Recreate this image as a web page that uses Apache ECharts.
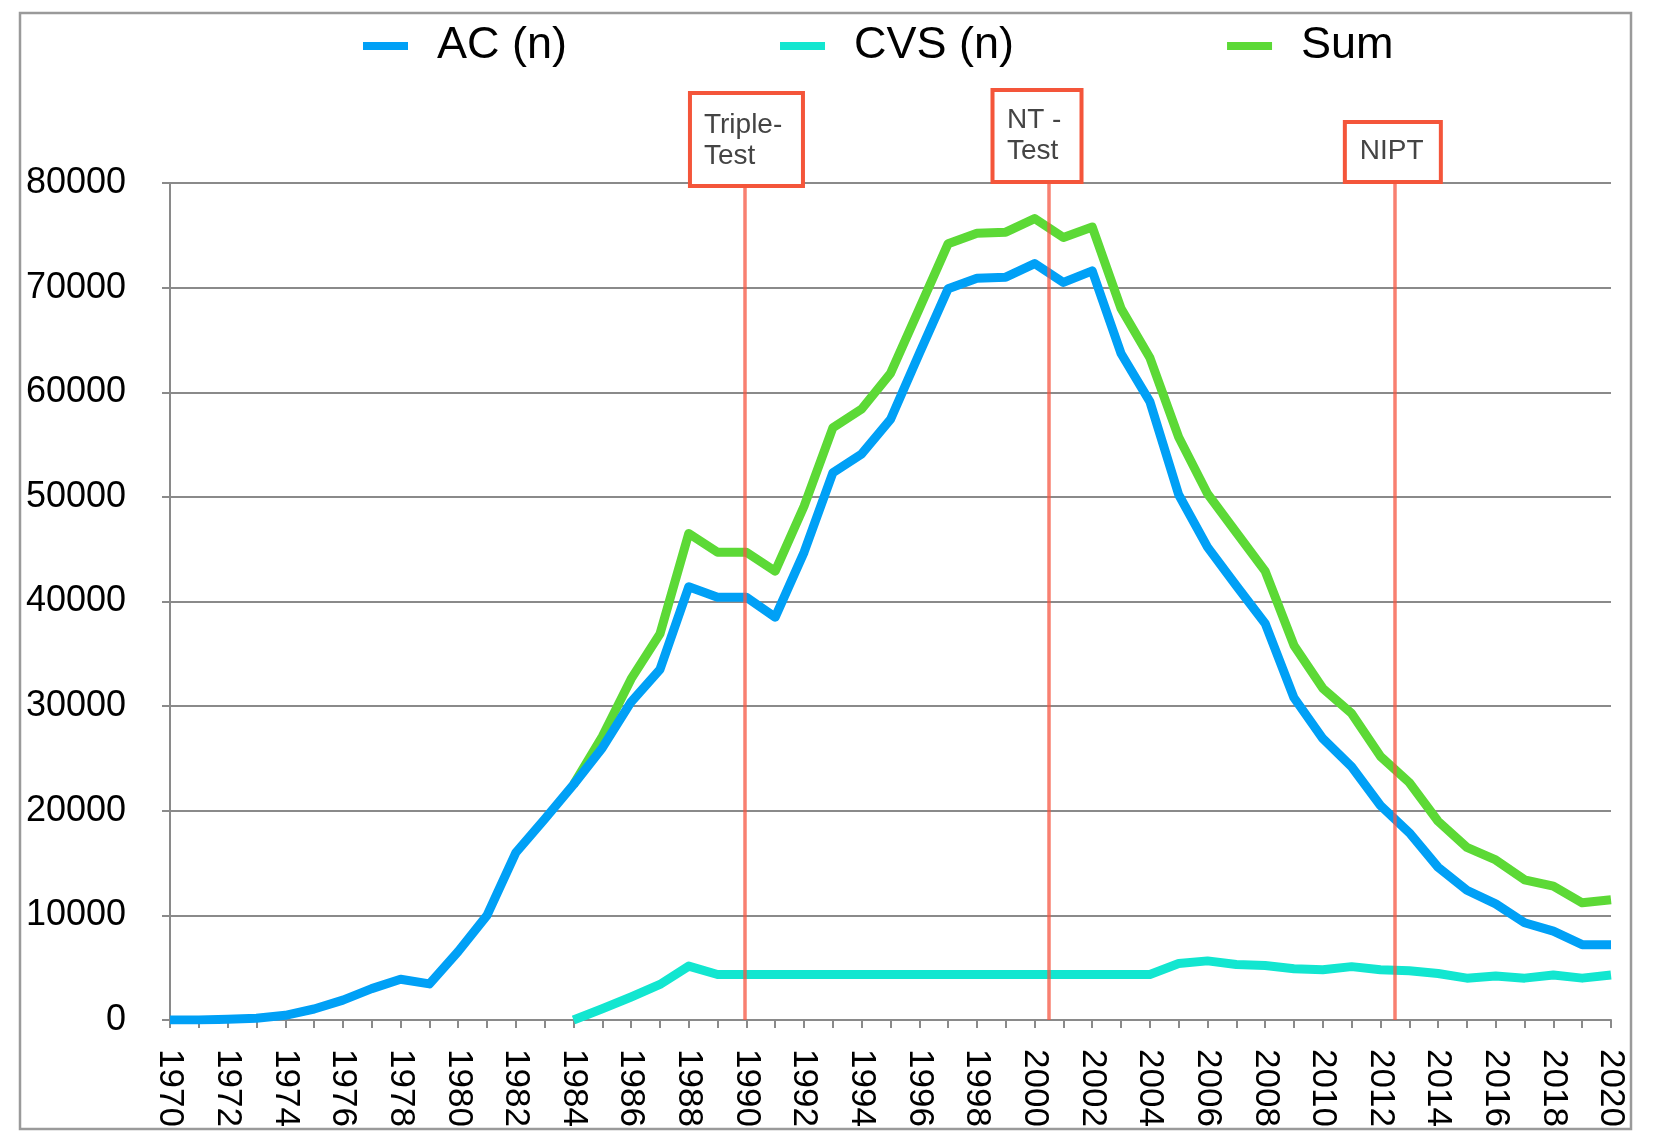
<!DOCTYPE html>
<html>
<head>
<meta charset="utf-8">
<script src="https://cdn.jsdelivr.net/npm/echarts@6/dist/echarts.min.js"></script>
<style>
html,body{margin:0;padding:0;background:#fff;}
#chart{width:1661px;height:1134px;}
</style>
</head>
<body>
<div id="chart"></div>
<script>
var years = [];
for (var yr = 1970; yr <= 2020; yr++) years.push(yr);

var acValues = [0, 0, 80, 160, 450, 1050, 1900, 3000, 3900, 3450,
  6550, 10000, 16000, 19200, 22500, 26000, 30400, 33500, 41400, 40400,
  40400, 38500, 44700, 52300, 54100, 57400, 63700, 69900, 70900, 71000,
  72300, 70500, 71600, 63700, 59100, 50200, 45200, 41500, 37900, 30800,
  26900, 24200, 20500, 17900, 14600, 12400, 11100, 9300, 8500, 7200,
  7200];

var cvsValues = [null, null, null, null, null, null, null, null, null, null,
  null, null, null, null, 0, 1070, 2200, 3400, 5150, 4350,
  4350, 4350, 4350, 4350, 4350, 4350, 4350, 4350, 4350, 4350,
  4350, 4350, 4350, 4350, 4350, 5400, 5650, 5300, 5200, 4900,
  4800, 5100, 4800, 4700, 4450, 4000, 4200, 4000, 4300, 4000,
  4300];

var sumValues = [null, null, null, null, null, null, null, null, null, null,
  null, null, null, null, 22500, 27100, 32600, 36900, 46500, 44700,
  44700, 42900, 49100, 56600, 58400, 61800, 68000, 74200, 75200, 75300,
  76600, 74800, 75800, 68000, 63300, 55700, 50300, 46600, 42900, 35800,
  31700, 29300, 25200, 22700, 19000, 16500, 15300, 13400, 12800, 11200,
  11500];

var seriesNames = ['AC (n)', 'CVS (n)', 'Sum'];
var markerYears = [1989.95, 2000.5, 2012.5];
var markerLabels = ['Triple-\nTest', 'NT -\nTest', 'NIPT'];
var yTicks = [0, 10000, 20000, 30000, 40000, 50000, 60000, 70000, 80000];

function pairs(vals) {
  return years.map(function (y, i) { return [y, vals[i]]; });
}

var FONT = '"Liberation Sans", Arial, Helvetica, sans-serif';
var chart = echarts.init(document.getElementById('chart'));

var option = {
  animation: false,
  backgroundColor: '#fff',
  legend: {
    data: seriesNames,
    left: 358,
    top: 16,
    itemWidth: 45,
    itemHeight: 8,
    itemGap: 213,
    icon: 'rect',
    textStyle: { fontFamily: FONT, fontSize: 45, color: '#000', lineHeight: 50, padding: [0, 0, 0, 24] }
  },
  grid: { left: 170, right: 50, top: 183, bottom: 114, containLabel: false },
  xAxis: {
    type: 'value',
    min: years[0],
    max: years[years.length - 1],
    interval: 1,
    axisLine: { show: true, lineStyle: { color: '#8a8a8a', width: 2 } },
    axisTick: { show: true, length: 8, lineStyle: { color: '#8a8a8a', width: 2 } },
    splitLine: { show: false },
    axisLabel: {
      rotate: -90,
      margin: 29,
      fontFamily: FONT,
      fontSize: 35,
      color: '#000',
      formatter: function (v) { return (v % 2 === 0) ? String(v) : ''; }
    }
  },
  yAxis: {
    type: 'value',
    min: yTicks[0],
    max: yTicks[yTicks.length - 1],
    interval: yTicks[1] - yTicks[0],
    axisLine: { show: true, lineStyle: { color: '#8a8a8a', width: 2 } },
    axisTick: { show: true, length: 8, lineStyle: { color: '#8a8a8a', width: 2 } },
    splitLine: { show: true, lineStyle: { color: '#8a8a8a', width: 2 } },
    axisLabel: {
      margin: 44, fontFamily: FONT, fontSize: 36, color: '#000',
      formatter: function (v) { return String(v); }
    }
  },
  series: [
    {
      name: seriesNames[2], type: 'line', data: pairs(sumValues), z: 2,
      showSymbol: false, color: '#5cd936',
      lineStyle: { width: 9, color: '#5cd936', join: 'round' }
    },
    {
      name: seriesNames[1], type: 'line', data: pairs(cvsValues), z: 3,
      showSymbol: false, color: '#12e6d0',
      lineStyle: { width: 9, color: '#12e6d0', join: 'round' }
    },
    {
      name: seriesNames[0], type: 'line', data: pairs(acValues), z: 4,
      showSymbol: false, color: '#00a0f6',
      lineStyle: { width: 9, color: '#00a0f6', join: 'round' }
    },
    {
      name: 'markers', type: 'line', data: [], z: 10,
      markLine: {
        silent: true,
        symbol: 'none',
        label: { show: false },
        lineStyle: { type: 'solid', color: 'rgba(245,85,65,0.75)', width: 3.5 },
        data: markerYears.map(function (m) { return { xAxis: m }; })
      }
    }
  ]
};
chart.setOption(option);

// annotation boxes anchored to marker lines via the axis scale
var boxDefs = [
  { dx: -55, dy: -90, w: 113, h: 93, tx: -41, ty: -73 },
  { dx: -56.5, dy: -93, w: 89, h: 92, tx: -42, ty: -78.5 },
  { dx: -50, dy: -61, w: 96, h: 60, tx: -35, ty: -47 }
];
var graphics = [{
  type: 'rect', z: 100,
  shape: { x: 20, y: 13, width: 1611, height: 1116 },
  style: { fill: null, stroke: '#9a9a9a', lineWidth: 2.5 }
}];
markerYears.forEach(function (m, i) {
  var p = chart.convertToPixel({ gridIndex: 0 }, [m, yTicks[yTicks.length - 1]]);
  var d = boxDefs[i];
  graphics.push({
    type: 'rect', z: 120,
    shape: { x: p[0] + d.dx, y: p[1] + d.dy, width: d.w, height: d.h },
    style: { fill: '#fff', stroke: '#f4553a', lineWidth: 4 }
  });
  graphics.push({
    type: 'text', z: 121,
    x: p[0] + d.tx, y: p[1] + d.ty,
    style: { text: markerLabels[i], fill: '#444', font: '28px ' + FONT, lineHeight: 31, textVerticalAlign: 'top' }
  });
});
chart.setOption({ graphic: graphics });
</script>
</body>
</html>
